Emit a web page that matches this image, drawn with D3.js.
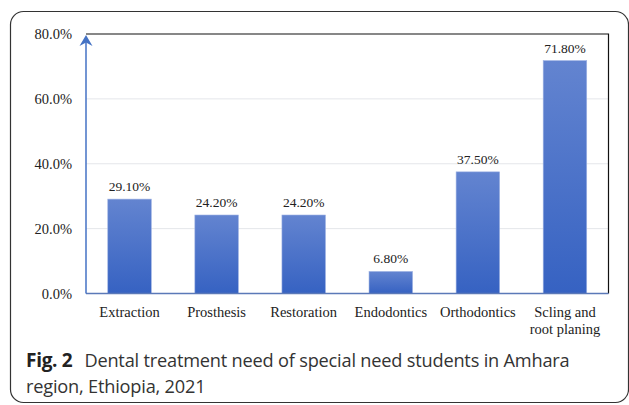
<!DOCTYPE html>
<html>
<head>
<meta charset="utf-8">
<script src="https://cdn.jsdelivr.net/npm/d3@7"></script>
<style>
  body { margin: 0; background: #fff; }
  svg { display: block; }
</style>
</head>
<body>
<svg id="chart" width="629" height="405"></svg>
<script>
// chart data
const categories = ["Extraction", "Prosthesis", "Restoration", "Endodontics", "Orthodontics", "Scling and\nroot planing"];
const needValues = [29.1, 24.2, 24.2, 6.8, 37.5, 71.8];
const yTicks = [0, 20, 40, 60, 80];

const svg = d3.select("#chart");

// outer rounded frame of the figure
svg.append("rect")
    .attr("x", 10.5).attr("y", 11.5)
    .attr("width", 618).attr("height", 391)
    .attr("rx", 13)
    .attr("fill", "none")
    .attr("stroke", "#333")
    .attr("stroke-width", 1.2);

const plotL = 86, plotR = 608.5, plotT = 34, plotB = 293.5;

const x = d3.scaleBand().domain(categories).range([plotL, plotR]).paddingInner(0.5).paddingOuter(0.25);
const y = d3.scaleLinear().domain([0, 80]).range([plotB, plotT]);

// gradient for bars
const defs = svg.append("defs");
const grad = defs.append("linearGradient").attr("id", "barGrad")
    .attr("x1", 0).attr("y1", 0).attr("x2", 0).attr("y2", 1);
grad.append("stop").attr("offset", "0%").attr("stop-color", "#6384d0");
grad.append("stop").attr("offset", "100%").attr("stop-color", "#3662c2");

// gridlines
svg.append("g").selectAll("line")
    .data(yTicks.filter(d => d > 0 && d < 80))
    .join("line")
    .attr("x1", plotL).attr("x2", plotR)
    .attr("y1", d => y(d)).attr("y2", d => y(d))
    .attr("stroke", "#e4e6ea").attr("stroke-width", 1);

// top and right frame
svg.append("path")
    .attr("d", `M${plotL},${plotT}H${plotR}V${plotB}`)
    .attr("fill", "none").attr("stroke", "#111").attr("stroke-width", 1.2);

// y axis with tick labels
const yAxis = d3.axisLeft(y).tickValues(yTicks).tickSize(0).tickPadding(14)
    .tickFormat(d => d.toFixed(1) + "%");
const yg = svg.append("g").attr("transform", `translate(${plotL},0)`).call(yAxis);
yg.select(".domain").remove();
yg.selectAll("text")
    .attr("font-family", "Liberation Serif, Times New Roman, serif")
    .attr("font-size", 14.5).attr("fill", "#222");

// bars
svg.append("g").selectAll("rect")
    .data(needValues)
    .join("rect")
    .attr("x", (d, i) => x(categories[i]))
    .attr("y", d => y(d))
    .attr("width", x.bandwidth())
    .attr("height", d => y(0) - y(d))
    .attr("fill", "url(#barGrad)")
    .attr("stroke", "#9fb3e3").attr("stroke-width", 0.6);

// value labels
svg.append("g").selectAll("text")
    .data(needValues)
    .join("text")
    .attr("x", (d, i) => x(categories[i]) + x.bandwidth() / 2)
    .attr("y", d => y(d) - 8)
    .attr("text-anchor", "middle")
    .attr("font-family", "Liberation Serif, Times New Roman, serif")
    .attr("font-size", 13.5).attr("fill", "#222")
    .text(d => d.toFixed(2) + "%");

// x axis line
svg.append("line")
    .attr("x1", plotL).attr("x2", plotR)
    .attr("y1", plotB).attr("y2", plotB)
    .attr("stroke", "#5b79b8").attr("stroke-width", 1.5);

// y axis line with arrow head
const yTop = y(80);
svg.append("line")
    .attr("x1", plotL).attr("x2", plotL)
    .attr("y1", plotB).attr("y2", yTop + 6)
    .attr("stroke", "#4472c4").attr("stroke-width", 1.5);
svg.append("path")
    .attr("d", `M${plotL},${yTop + 1} L${plotL + 6.5},${yTop + 12} L${plotL},${yTop + 8.5} L${plotL - 6.5},${yTop + 12} Z`)
    .attr("fill", "#4472c4");

// category labels
const xl = svg.append("g").selectAll("text")
    .data(categories)
    .join("text")
    .attr("x", d => x(d) + x.bandwidth() / 2)
    .attr("y", 317)
    .attr("text-anchor", "middle")
    .attr("font-family", "Liberation Serif, Times New Roman, serif")
    .attr("font-size", 14.5).attr("fill", "#222");
xl.selectAll("tspan")
    .data(d => d.split("\n").map(s => ({ s, c: d })))
    .join("tspan")
    .attr("x", d => x(d.c) + x.bandwidth() / 2)
    .attr("dy", (d, i) => i === 0 ? 0 : 17)
    .text(d => d.s);

// caption
const cap = svg.append("text")
    .attr("x", 26).attr("y", 367)
    .attr("font-family", "Open Sans, Noto Sans, sans-serif")
    .attr("font-size", 18.2).attr("fill", "#333");
cap.append("tspan").attr("font-weight", "bold").attr("fill", "#222")
    .attr("font-size", 19).attr("letter-spacing", -0.3).text("Fig. 2");
cap.append("tspan").attr("dx", 12).attr("letter-spacing", -0.2)
    .text("Dental treatment need of special need students in Amhara");
svg.append("text")
    .attr("x", 26).attr("y", 393)
    .attr("font-family", "Open Sans, Noto Sans, sans-serif")
    .attr("font-size", 18.2).attr("fill", "#333").attr("letter-spacing", -0.2)
    .text("region, Ethiopia, 2021");
</script>
</body>
</html>
